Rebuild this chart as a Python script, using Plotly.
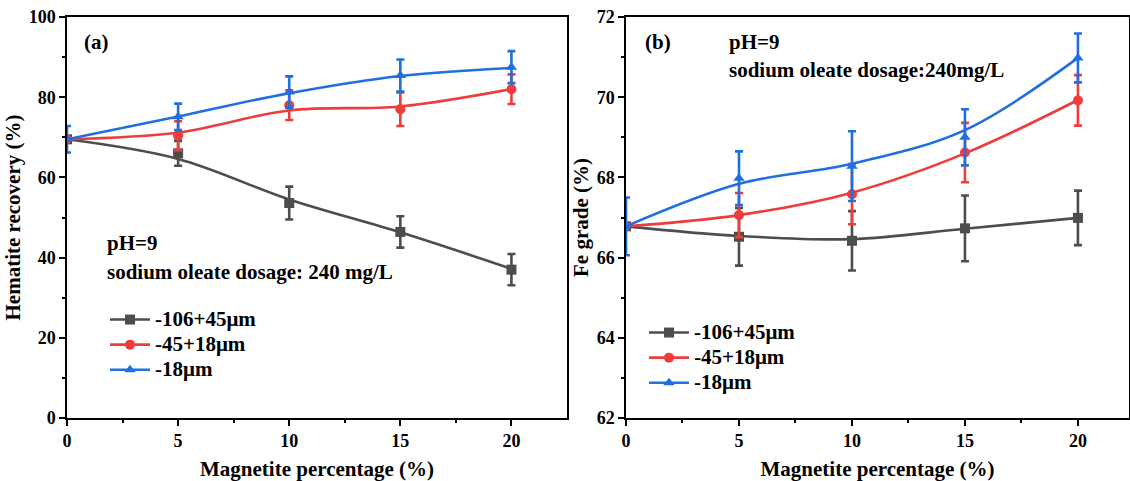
import plotly.graph_objects as go

W, H = 1130, 481
FONT = "Times New Roman, Liberation Serif, serif"

x_vals = [0, 5, 10, 15, 20]
series_names = ["-106+45μm", "-45+18μm", "-18μm"]
colors = ["#4d4d4d", "#ee3b3b", "#1f6fe0"]
symbols = ["square", "circle", "triangle-up"]

# Panel (a): Hematite recovery (%)
rec_gray = [69.5, 66.0, 53.6, 46.4, 37.0]
rec_gray_err = [0.0, 3.1, 4.1, 3.9, 3.9]
rec_red = [69.5, 70.4, 78.0, 77.0, 82.0]
rec_red_err = [0.0, 3.6, 3.7, 4.2, 3.7]
rec_blue = [69.5, 75.1, 81.3, 85.4, 87.5]
rec_blue_err = [3.3, 3.3, 3.9, 4.0, 4.0]
rec_fit_gray = [69.5, 64.6, 54.5, 46.3, 37.2]
rec_fit_red = [69.5, 71.2, 76.7, 77.7, 82.0]
rec_fit_blue = [69.5, 75.2, 81.0, 85.3, 87.3]

# Panel (b): Fe grade (%)
fe_gray = [66.78, 66.52, 66.42, 66.73, 66.99]
fe_gray_err = [0.0, 0.72, 0.74, 0.82, 0.68]
fe_red = [66.78, 67.06, 67.58, 68.62, 69.92]
fe_red_err = [0.0, 0.55, 0.75, 0.74, 0.63]
fe_blue = [66.78, 67.98, 68.28, 69.0, 70.98]
fe_blue_err = [0.72, 0.67, 0.87, 0.70, 0.61]
fe_fit_gray = [66.78, 66.54, 66.46, 66.72, 66.99]
fe_fit_red = [66.78, 67.06, 67.62, 68.60, 69.93]
fe_fit_blue = [66.78, 67.84, 68.34, 69.18, 70.98]


def px_x(p):
    return p / W


def px_y(p):
    return 1 - p / H


fig = go.Figure()

panels = [
    ("x", "y", [rec_gray, rec_red, rec_blue], [rec_gray_err, rec_red_err, rec_blue_err],
     [rec_fit_gray, rec_fit_red, rec_fit_blue], "legend"),
    ("x2", "y2", [fe_gray, fe_red, fe_blue], [fe_gray_err, fe_red_err, fe_blue_err],
     [fe_fit_gray, fe_fit_red, fe_fit_blue], "legend2"),
]

for xa, ya, vals, errs, fits, leg in panels:
    for i in range(3):
        fig.add_trace(go.Scatter(
            x=x_vals, y=fits[i], mode="lines", xaxis=xa, yaxis=ya,
            line=dict(color=colors[i], width=2.6, shape="spline", smoothing=1.0),
            showlegend=False, hoverinfo="skip"))
        fig.add_trace(go.Scatter(
            x=x_vals, y=vals[i], mode="markers", xaxis=xa, yaxis=ya,
            marker=dict(symbol=symbols[i], size=10, color=colors[i]),
            error_y=dict(type="data", array=errs[i], visible=True,
                         color=colors[i], thickness=2.6, width=4),
            showlegend=False))
        fig.add_trace(go.Scatter(
            x=[None], y=[None], mode="lines+markers", xaxis=xa, yaxis=ya,
            name='<span style="font-size:21px">' + series_names[i] + '</span>', legend=leg,
            line=dict(color=colors[i], width=2.6),
            marker=dict(symbol=symbols[i], size=10, color=colors[i])))

tickfont = dict(family=FONT, size=18, color="black", weight="bold")
titlefont = dict(family=FONT, size=21, color="black", weight="bold")
minor_common = dict(ticks="outside", ticklen=3, tickcolor="black", tickwidth=1.5)
axis_common = dict(
    showline=True, linecolor="black", linewidth=1.5, mirror=True,
    ticks="outside", ticklen=6, tickwidth=1.5, tickcolor="black",
    showgrid=False, zeroline=False, tickfont=tickfont, automargin=False,
)

legfont = dict(family=FONT, size=17, color="black", weight="bold")

fig.update_layout(
    width=W, height=H, margin=dict(l=0, r=0, t=0, b=0, autoexpand=False),
    paper_bgcolor="white", plot_bgcolor="white",
    font=dict(family=FONT, color="black"),
    xaxis=dict(domain=[px_x(67), px_x(567)], range=[0, 22.5], tickvals=x_vals,
               minor=dict(tickvals=[2.5, 7.5, 12.5, 17.5], **minor_common),
               title=dict(text="Magnetite percentage (%)", font=titlefont, standoff=11),
               anchor="y", **axis_common),
    yaxis=dict(domain=[px_y(418), px_y(17)], range=[0, 100], dtick=20,
               minor=dict(dtick=10, **minor_common),
               title=dict(text="Hematite recovery (%)", font=titlefont, standoff=2),
               anchor="x", **axis_common),
    xaxis2=dict(domain=[px_x(626), px_x(1129)], range=[0, 22.26], tickvals=x_vals,
                minor=dict(tickvals=[2.5, 7.5, 12.5, 17.5], **minor_common),
                title=dict(text="Magnetite percentage (%)", font=titlefont, standoff=11),
                anchor="y2", **axis_common),
    yaxis2=dict(domain=[px_y(418), px_y(17)], range=[62, 72], dtick=2,
                minor=dict(dtick=1, **minor_common),
                title=dict(text="Fe grade (%)", font=titlefont, standoff=2),
                anchor="x2", **axis_common),
    legend=dict(x=px_x(105), y=px_y(302), xanchor="left", yanchor="top",
                bgcolor="rgba(0,0,0,0)", font=legfont,
                tracegroupgap=0, itemwidth=40),
    legend2=dict(x=px_x(644), y=px_y(315), xanchor="left", yanchor="top",
                 bgcolor="rgba(0,0,0,0)", font=legfont,
                 tracegroupgap=0, itemwidth=40),
    showlegend=True,
)

ann_font = dict(family=FONT, size=21, color="black", weight="bold")
annotations = [
    ("(a)", 82, 42),
    ("pH=9", 105, 243),
    ("sodium oleate dosage: 240 mg/L", 105, 272),
    ("(b)", 643, 42),
    ("pH=9", 727, 42),
    ("sodium oleate dosage:240mg/L", 727, 70),
]
for text, px, py in annotations:
    fig.add_annotation(text=text, x=px_x(px), y=px_y(py), xref="paper", yref="paper",
                       xanchor="left", yanchor="middle", showarrow=False, font=ann_font)

fig.write_html("out.html")
